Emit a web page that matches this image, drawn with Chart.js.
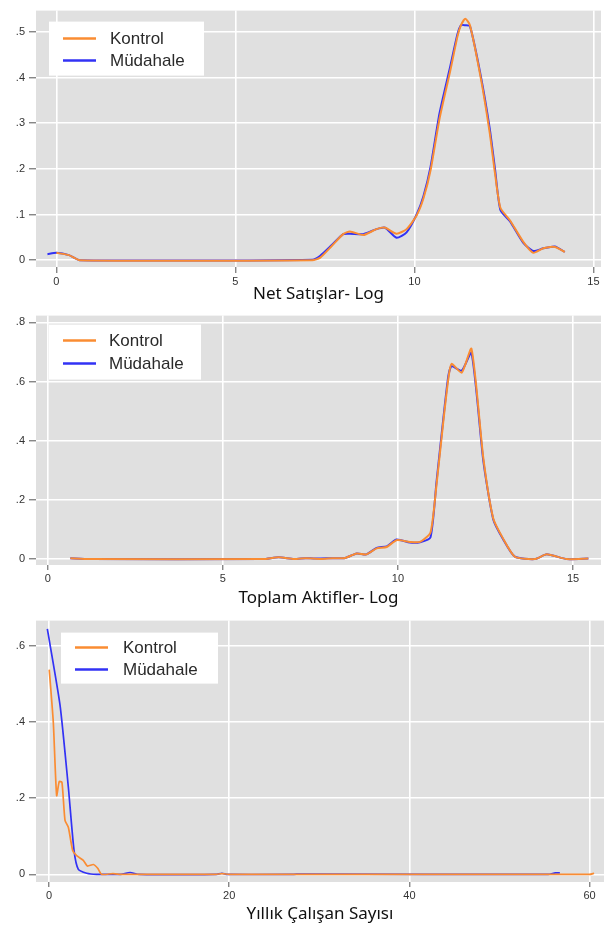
<!DOCTYPE html>
<html>
<head>
<meta charset="utf-8">
<script src="https://cdn.jsdelivr.net/npm/chart.js@4"></script>
<style>
  body { margin: 0; background: #fff; }
  canvas { position: absolute; left: 0; }
</style>
</head>
<body>
<canvas id="c1" width="606" height="305" style="top:0px"></canvas>
<canvas id="c2" width="606" height="305" style="top:305px"></canvas>
<canvas id="c3" width="606" height="316" style="top:610px"></canvas>
<script>
// Series labels
const seriesNames = ['Kontrol', 'Müdahale'];

// Panel 1 - Net Satışlar (log)
const salesX = [-0.25, 0, 0.35, 0.65, 7.15, 7.36, 7.69, 8.01, 8.2, 8.57, 8.94, 9.18, 9.5, 9.78, 10.06, 10.25, 10.45, 10.7, 11.0, 11.2, 11.3, 11.42, 11.55, 11.85, 12.1, 12.25, 12.4, 12.67, 13.04, 13.32, 13.6, 13.92, 14.2];
const salesKontrol = [null, 0.016, 0.011, 0, 0, 0.005, 0.031, 0.057, 0.063, 0.055, 0.068, 0.071, 0.058, 0.068, 0.098, 0.135, 0.197, 0.31, 0.415, 0.49, 0.515, 0.529, 0.515, 0.40, 0.28, 0.19, 0.115, 0.087, 0.040, 0.016, 0.026, 0.029, 0.018];
const salesMudahale = [0.013, 0.016, 0.011, 0, 0.001, 0.009, 0.033, 0.057, 0.058, 0.057, 0.068, 0.071, 0.049, 0.061, 0.1, 0.14, 0.205, 0.322, 0.425, 0.495, 0.515, 0.515, 0.513, 0.405, 0.29, 0.2, 0.11, 0.085, 0.038, 0.02, 0.026, 0.03, 0.018];
const salesXTicks = [0, 5, 10, 15];
const salesYTicks = [0, 0.1, 0.2, 0.3, 0.4, 0.5];

// Panel 2 - Toplam Aktifler (log)
const assetsX = [0.64, 1.19, 6.15, 6.59, 7.03, 7.36, 7.58, 7.8, 8.13, 8.49, 8.82, 9.1, 9.39, 9.68, 9.96, 10.34, 10.63, 10.93, 11.1, 11.3, 11.44, 11.53, 11.82, 12.1, 12.44, 12.72, 13.0, 13.34, 13.91, 14.25, 14.82, 15.44];
const assetsKontrol = [0.003, 0, 0, 0.006, 0, 0.003, 0.002, 0, 0.003, 0.004, 0.019, 0.016, 0.036, 0.041, 0.064, 0.058, 0.058, 0.09, 0.25, 0.47, 0.61, 0.66, 0.63, 0.711, 0.34, 0.138, 0.07, 0.008, 0, 0.016, 0, 0.002];
const assetsMudahale = [0.003, 0, 0, 0.006, 0, 0.003, 0.002, 0.002, 0.003, 0.004, 0.019, 0.016, 0.038, 0.043, 0.066, 0.056, 0.057, 0.074, 0.26, 0.48, 0.62, 0.652, 0.637, 0.697, 0.33, 0.135, 0.068, 0.008, 0, 0.016, 0, 0.002];
const assetsXTicks = [0, 5, 10, 15];
const assetsYTicks = [0, 0.2, 0.4, 0.6, 0.8];

// Panel 3 - Yıllık Çalışan Sayısı
const staffKontrolX = [0.03, 0.48, 0.85, 1.14, 1.44, 1.78, 2.15, 2.63, 3.07, 3.81, 4.26, 4.93, 5.41, 5.85, 7.1, 8.0, 9.5, 18.5, 19.2, 20, 56, 60, 60.5];
const staffKontrol = [0.538, 0.40, 0.207, 0.244, 0.242, 0.142, 0.124, 0.063, 0.049, 0.037, 0.022, 0.026, 0.016, 0, 0.002, 0, 0, 0, 0.002, 0, 0, 0, 0.003];
const staffMudahaleX = [-0.18, 1.22, 2.15, 2.78, 3.26, 4.19, 5.3, 7.0, 8.0, 9.0, 10.0, 18.5, 19.2, 19.8, 27, 28, 55.4, 56.2, 56.7];
const staffMudahale = [0.645, 0.446, 0.229, 0.063, 0.013, 0.003, 0, 0, 0, 0.005, 0, 0, 0.003, 0, 0, 0.001, 0, 0.004, 0.004];
const staffXTicks = [0, 20, 40, 60];
const staffYTicks = [0, 0.2, 0.4, 0.6];

const ORANGE = 'rgb(250,140,50)';
const BLUE = 'rgb(50,50,245)';

function pts(xs, ys) {
  return xs.map((x, i) => ({ x: x, y: ys[i] }));
}

// gray plot region like Stata
const plotBg = {
  id: 'plotBg',
  beforeDraw(chart) {
    const a = chart.chartArea;
    chart.ctx.save();
    chart.ctx.fillStyle = '#e0e0e0';
    chart.ctx.fillRect(a.left, a.top, a.right - a.left, a.bottom - a.top);
    chart.ctx.restore();
  }
};

// legend box drawn inside the plot region
const boxLegend = {
  id: 'boxLegend',
  afterDraw(chart, args, o) {
    const { ctx, chartArea } = chart;
    const x = chartArea.left + o.x, y = chartArea.top + o.y;
    ctx.save();
    ctx.fillStyle = '#fff';
    ctx.fillRect(x, y, o.w, o.h);
    chart.data.datasets.forEach((ds, i) => {
      const ry = y + o.row0 + i * o.rowGap;
      ctx.strokeStyle = ds.borderColor;
      ctx.lineWidth = 2.5;
      ctx.beginPath();
      ctx.moveTo(x + o.lineX, ry);
      ctx.lineTo(x + o.lineX + 33, ry);
      ctx.stroke();
      ctx.fillStyle = '#2a2a2a';
      ctx.font = '17px "Liberation Sans", Arial, sans-serif';
      ctx.textBaseline = 'middle';
      ctx.fillText(ds.label, x + o.textX, ry + 1);
    });
    ctx.restore();
  }
};

function yLabel(v) {
  if (v === 0) return '0';
  return v.toFixed(1).replace(/^0/, '');
}

function makeChart(id, cfg) {
  const ctx = document.getElementById(id).getContext('2d');
  return new Chart(ctx, {
    type: 'scatter',
    data: {
      datasets: [
        { label: seriesNames[0], data: cfg.kontrol, borderColor: ORANGE, borderWidth: cfg.lw, showLine: true, pointRadius: 0, tension: 0.2, spanGaps: true },
        { label: seriesNames[1], data: cfg.mudahale, borderColor: BLUE, borderWidth: cfg.lw, showLine: true, pointRadius: 0, tension: 0.2, spanGaps: true }
      ]
    },
    options: {
      responsive: false,
      animation: false,
      layout: { padding: { top: cfg.padTop, right: cfg.padRight, left: 0, bottom: 0 } },
      plugins: {
        legend: { display: false },
        tooltip: { enabled: false },
        boxLegend: cfg.legend
      },
      scales: {
        x: {
          type: 'linear',
          min: cfg.xMin,
          max: cfg.xMax,
          border: { display: false },
          grid: { color: '#fff', lineWidth: 1.6, tickColor: '#555', tickLength: cfg.xTickLen, tickWidth: 1 },
          ticks: { padding: cfg.xTickPad, color: '#333', font: { family: '"Liberation Sans", Arial', size: 11 }, maxRotation: 0 },
          afterBuildTicks: s => { s.ticks = cfg.xTicks.map(v => ({ value: v })); },
          afterFit: s => { s.height = cfg.xAxisH; },
          title: { display: true, text: cfg.title, color: '#111', font: { family: '"Noto Sans"', size: 17 }, padding: { top: cfg.titlePad, bottom: cfg.titlePad } }
        },
        y: {
          min: cfg.yMin,
          max: cfg.yMax,
          border: { display: false },
          grid: { color: '#fff', lineWidth: 1.6, tickColor: '#555', tickLength: 7, tickWidth: 1 },
          ticks: { padding: 4, color: '#333', font: { family: '"Liberation Sans", Arial', size: 11 }, callback: yLabel },
          afterBuildTicks: s => { s.ticks = cfg.yTicks.map(v => ({ value: v })); },
          afterFit: s => { s.width = 36; }
        }
      }
    },
    plugins: [plotBg, boxLegend]
  });
}

makeChart('c1', {
  kontrol: pts(salesX, salesKontrol), mudahale: pts(salesX, salesMudahale), lw: 2,
  xMin: -0.57, xMax: 15.21, yMin: -0.015, yMax: 0.547,
  xTicks: salesXTicks, yTicks: salesYTicks,
  padTop: 4, padRight: 5, xAxisH: 38, xTickLen: 6, xTickPad: 2, titlePad: 1,
  title: 'Net Satışlar- Log',
  legend: { x: 13, y: 11, w: 155, h: 54, lineX: 14, textX: 61, row0: 17, rowGap: 22 }
});

makeChart('c2', {
  kontrol: pts(assetsX, assetsKontrol), mudahale: pts(assetsX, assetsMudahale), lw: 2,
  xMin: -0.34, xMax: 15.8, yMin: -0.02, yMax: 0.823,
  xTicks: assetsXTicks, yTicks: assetsYTicks,
  padTop: 8, padRight: 5, xAxisH: 45, xTickLen: 5, xTickPad: 2, titlePad: 2,
  title: 'Toplam Aktifler- Log',
  legend: { x: 13, y: 9, w: 152, h: 55, lineX: 14, textX: 60, row0: 16, rowGap: 23 }
});

makeChart('c3', {
  kontrol: pts(staffKontrolX, staffKontrol), mudahale: pts(staffMudahaleX, staffMudahale), lw: 1.7,
  xMin: -1.44, xMax: 61.6, yMin: -0.02, yMax: 0.667,
  xTicks: staffXTicks, yTicks: staffYTicks,
  padTop: 9, padRight: 2, xAxisH: 44, xTickLen: 5, xTickPad: 2, titlePad: 2,
  title: 'Yıllık Çalışan Sayısı',
  legend: { x: 25, y: 12, w: 157, h: 51, lineX: 14, textX: 62, row0: 15, rowGap: 22 }
});
</script>
</body>
</html>
